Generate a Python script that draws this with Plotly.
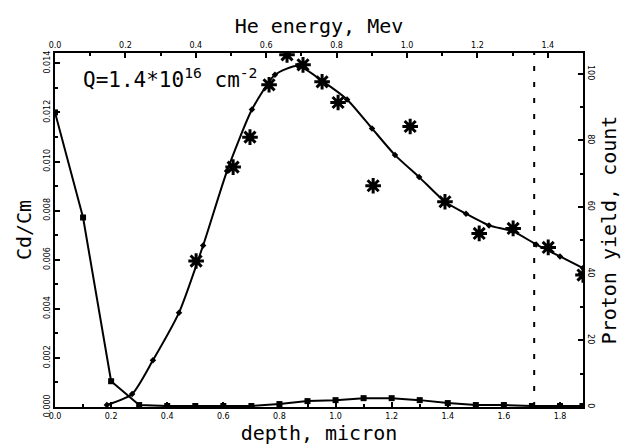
import plotly.graph_objects as go

# Cd/Cm profile versus depth (left axis)
cd_depth = [0.0, 0.1, 0.2, 0.3, 0.4, 0.5, 0.6, 0.7, 0.8, 0.9, 1.0, 1.1,
            1.2, 1.3, 1.4, 1.5, 1.6, 1.7, 1.8, 1.88]
cd_ratio = [0.0120, 0.00772, 0.00105, 0.00008, 0.00004, 0.00004, 0.00004,
            0.00004, 0.00012, 0.00024, 0.00028, 0.00036, 0.00036, 0.00028,
            0.00016, 0.00008, 0.00008, 0.00004, 0.00004, 0.00004]

# Calculated proton yield curve (right axis)
fit_depth = [0.185, 0.275, 0.349, 0.442, 0.528, 0.613, 0.702, 0.784, 0.866,
             0.952, 1.041, 1.130, 1.212, 1.298, 1.390, 1.465, 1.547, 1.633,
             1.715, 1.800, 1.882]
fit_count = [0.6, 3.9, 14.0, 28.3, 48.5, 70.8, 89.3, 99.7, 102.4, 97.9, 92.3,
             83.6, 75.6, 69.0, 61.6, 58.0, 54.5, 52.7, 48.8, 45.2, 41.7]

# Measured proton yield (right axis)
meas_depth = [0.503, 0.635, 0.695, 0.763, 0.827, 0.884, 0.952, 1.009, 1.134,
              1.266, 1.390, 1.512, 1.633, 1.758, 1.882]
meas_count = [43.8, 72.0, 81.0, 96.7, 105.7, 102.7, 97.6, 91.4, 66.4, 84.2,
              61.6, 52.1, 53.6, 47.9, 39.6]

# Axis ticks
depth_ticks = [0.0, 0.2, 0.4, 0.6, 0.8, 1.0, 1.2, 1.4, 1.6, 1.8]
energy_ticks = [0.0, 0.2, 0.4, 0.6, 0.8, 1.0, 1.2, 1.4]
ratio_ticks = [0.000, 0.002, 0.004, 0.006, 0.008, 0.010, 0.012, 0.014]
count_ticks = [0, 20, 40, 60, 80, 100]
marker_depth = 1.708

FONT = "DejaVu Sans Mono"
BLACK = "#000000"

fig = go.Figure()

fig.add_trace(go.Scatter(
    x=cd_depth, y=cd_ratio, mode="lines+markers",
    line=dict(color=BLACK, width=2),
    marker=dict(symbol="square", size=6, color=BLACK),
    xaxis="x", yaxis="y", showlegend=False))

fig.add_trace(go.Scatter(
    x=fit_depth, y=fit_count, mode="lines+markers",
    line=dict(color=BLACK, width=2, shape="spline", smoothing=0.6),
    marker=dict(symbol="diamond", size=5, color=BLACK),
    xaxis="x", yaxis="y2", showlegend=False))

fig.add_trace(go.Scatter(
    x=meas_depth, y=meas_count, mode="markers",
    marker=dict(symbol="asterisk", size=13, color=BLACK,
                line=dict(color=BLACK, width=3)),
    xaxis="x", yaxis="y2", showlegend=False))

# invisible trace so the energy axis is drawn
fig.add_trace(go.Scatter(x=[0, 1.5], y=[0, 0], mode="markers",
                         marker=dict(opacity=0), xaxis="x2", yaxis="y",
                         showlegend=False, hoverinfo="skip"))

fig.add_shape(type="line", xref="x", yref="paper",
              x0=marker_depth, x1=marker_depth, y0=0, y1=1,
              line=dict(color=BLACK, width=2, dash="5px,11px"))

tick_font = dict(family="DejaVu Sans", size=8, color=BLACK)
axis_common = dict(showline=True, linecolor=BLACK, linewidth=2,
                   ticks="inside", ticklen=5, tickwidth=2, tickcolor=BLACK,
                   showgrid=False, zeroline=False, tickfont=tick_font)

fig.update_layout(
    width=637, height=447,
    margin=dict(l=55, r=54, t=53, b=37),
    paper_bgcolor="white", plot_bgcolor="white",
    font=dict(family=FONT, color=BLACK),
    xaxis=dict(range=[0, 1.882], tickvals=depth_ticks, tickformat=".1f",
               minor=dict(dtick=0.1, ticks="inside", ticklen=3,
                          tickcolor=BLACK, tickwidth=1.5),
               title=dict(text="depth, micron", font=dict(family=FONT, size=20),
                          standoff=0),
               **axis_common),
    xaxis2=dict(range=[0, 1.5], overlaying="x", side="top",
                tickvals=energy_ticks, tickformat=".1f",
                minor=dict(dtick=0.1, ticks="inside", ticklen=3,
                           tickcolor=BLACK, tickwidth=1.5),
                title=dict(text="He energy, Mev", font=dict(family=FONT, size=20),
                           standoff=2),
                **axis_common),
    yaxis=dict(range=[0, 0.01442], tickvals=ratio_ticks, tickformat=".3f",
               tickangle=-90,
               minor=dict(dtick=0.001, ticks="inside", ticklen=3,
                          tickcolor=BLACK, tickwidth=1.5),
               title=dict(text="Cd/Cm", font=dict(family=FONT, size=20),
                          standoff=6),
               **axis_common),
    yaxis2=dict(range=[0, 106.25], overlaying="y", side="right",
                tickvals=count_ticks, tickangle=90,
                minor=dict(dtick=10, ticks="inside", ticklen=3,
                           tickcolor=BLACK, tickwidth=1.5),
                title=dict(text="Proton yield, count",
                           font=dict(family=FONT, size=20), standoff=8),
                **axis_common),
    annotations=[dict(
        text="Q=1.4*10<sup>16</sup> cm<sup>-2</sup>",
        xref="paper", yref="paper", x=0.05, y=0.93,
        xanchor="left", yanchor="middle", showarrow=False,
        font=dict(family=FONT, size=21, color=BLACK))],
)

fig.write_html("out.html")
